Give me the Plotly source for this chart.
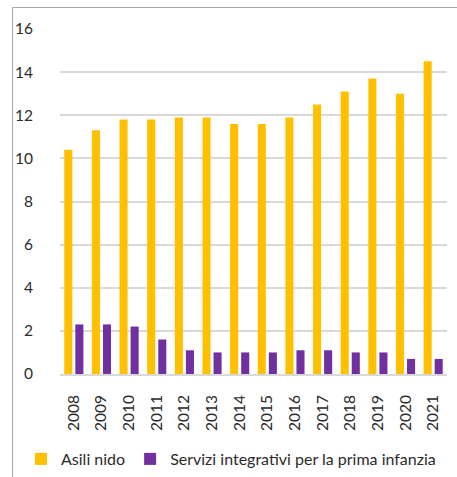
import plotly.graph_objects as go

# Data
anni = ["2008", "2009", "2010", "2011", "2012", "2013", "2014",
        "2015", "2016", "2017", "2018", "2019", "2020", "2021"]
asili_nido = [10.4, 11.3, 11.8, 11.8, 11.9, 11.9, 11.6,
              11.6, 11.9, 12.5, 13.1, 13.7, 13.0, 14.5]
servizi_integrativi = [2.3, 2.3, 2.2, 1.6, 1.1, 1.0, 1.0,
                       1.0, 1.1, 1.1, 1.0, 1.0, 0.7, 0.7]
y_ticks = [0, 2, 4, 6, 8, 10, 12, 14, 16]

W, H = 457, 477
# plot area in pixels: x 60..447, y 29..374
L, R, T, B = 60, W - 447, 29, H - 374
plot_w = W - L - R
plot_h = H - T - B

def px_x(px):
    # pixel -> paper x
    return (px - L) / plot_w

def px_y(py):
    # pixel -> paper y
    return (H - B - py) / plot_h

FONT = "Lato, 'Open Sans', sans-serif"
TXT = "#2b2b2b"

fig = go.Figure()
fig.add_trace(go.Bar(x=anni, y=asili_nido, name="Asili nido",
                     marker=dict(color="#FFC000", line=dict(width=0))))
fig.add_trace(go.Bar(x=anni, y=servizi_integrativi,
                     name="Servizi integrativi per la prima infanzia",
                     marker=dict(color="#7030A0", line=dict(width=0))))

# chart frame (only left and top edges visible in the reference crop)
fig.add_shape(type="line", xref="paper", yref="paper",
              x0=px_x(12.5), x1=px_x(12.5), y0=px_y(7.5), y1=px_y(H),
              line=dict(color="#A6A6A6", width=1))
fig.add_shape(type="line", xref="paper", yref="paper",
              x0=px_x(12.5), x1=px_x(W), y0=px_y(7.5), y1=px_y(7.5),
              line=dict(color="#A6A6A6", width=1))

fig.update_layout(
    width=W, height=H,
    # fixed margins: the legend below must not shrink the plot area
    margin=dict(l=L, r=R, t=T, b=B, autoexpand=False),
    paper_bgcolor="white", plot_bgcolor="white",
    barmode="group", bargap=0.2, bargroupgap=0.27,
    font=dict(family=FONT, size=15.5, color=TXT),
    showlegend=True,
    legend=dict(orientation="h", x=px_x(21), xanchor="left",
                y=px_y(442), yanchor="top",
                font=dict(family=FONT, size=16, color=TXT),
                bgcolor="rgba(0,0,0,0)", borderwidth=0,
                itemclick=False),
)
fig.update_xaxes(type="category", tickangle=-90, showgrid=False,
                 showline=True, linecolor="#D9D9D9", linewidth=1.5,
                 ticks="", ticklabelstandoff=13, tickfont=dict(size=15.5),
                 automargin=False)
fig.update_yaxes(range=[0, 16], tickvals=y_ticks, showgrid=True,
                 gridcolor="#D9D9D9", gridwidth=1.5, zeroline=False,
                 showline=False, ticks="", ticklabelstandoff=26,
                 tickfont=dict(size=15.5), automargin=False)

# drop the default 8px body margin so the figure fills the window exactly
fig.write_html("out.html", config={"displayModeBar": False},
               post_script="document.body.style.margin = '0';")
